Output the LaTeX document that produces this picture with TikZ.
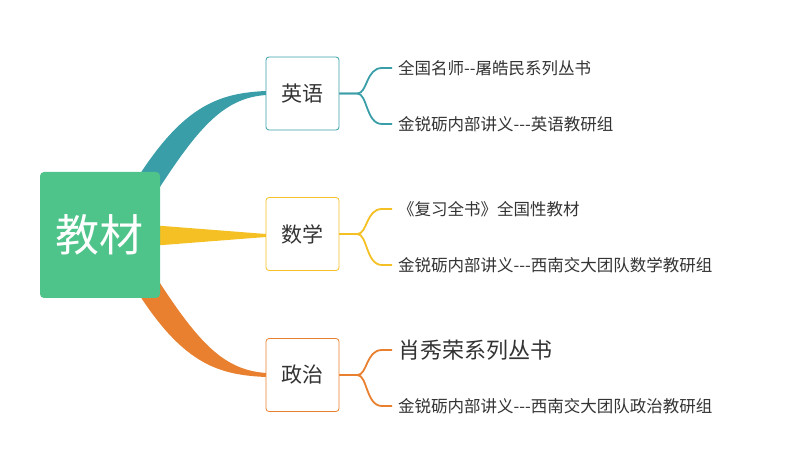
\documentclass[tikz,border=0pt]{standalone}
\usepackage{fontspec}
\setmainfont{Noto Sans CJK SC}
\definecolor{cg}{HTML}{4FC48A}
\definecolor{ct}{HTML}{3A9EA8}
\definecolor{cy}{HTML}{F5C024}
\definecolor{co}{HTML}{E98030}
\definecolor{tx}{HTML}{333333}
\begin{document}
\begin{tikzpicture}[x=1pt,y=-1pt,
  sub/.style={draw=#1,line width=0.8pt,fill=white,rounded corners=3pt,minimum width=73pt,minimum height=73pt,text=tx,font=\fontsize{21}{21}\selectfont,inner sep=0pt},
  leaf/.style={anchor=west,text=tx,font=\fontsize{16.5}{16.5}\selectfont,inner sep=0pt},
  br/.style={draw=#1,line width=1.8pt}]
\useasboundingbox (0,0) rectangle (796,473);
\fill[ct] (140,174) .. controls (185,105) and (220,93) .. (266,91) -- (266,95) .. controls (225,98) and (200,125) .. (158,190) -- cycle;
\fill[cy] (150,225) -- (266,234) -- (266,237) -- (150,246) -- cycle;
\fill[co] (140,296) .. controls (185,365) and (220,375) .. (266,377) -- (266,373) .. controls (225,370) and (200,345) .. (158,280) -- cycle;
\node[fill=cg,rounded corners=4pt,minimum width=120pt,minimum height=126pt,text=white,font=\fontsize{44}{44}\selectfont,inner sep=0pt] (root) at (100,235) {教材};
\node[sub=ct] (en) at (302.5,93.5) {英语};
\node[sub=cy] (ma) at (302.5,234) {数学};
\node[sub=co] (po) at (302.5,375) {政治};
\node[leaf] (e1) at (398,68) {全国名师{-}{-}屠皓民系列丛书};
\node[leaf] (e2) at (398,124) {金锐砺内部讲义{-}{-}{-}英语教研组};
\node[leaf] (m1) at (398,209) {《复习全书》全国性教材};
\node[leaf] (m2) at (398,265) {金锐砺内部讲义{-}{-}{-}西南交大团队数学教研组};
\node[leaf,font=\fontsize{22}{22}\selectfont] (p1) at (398,350) {肖秀荣系列丛书};
\node[leaf] (p2) at (398,406) {金锐砺内部讲义{-}{-}{-}西南交大团队政治教研组};
\foreach \b/\a/\c/\col in {en/e1/e2/ct,ma/m1/m2/cy,po/p1/p2/co}{
  \draw[br=\col] (\b.east) -- ++(18,0) .. controls +(10,0) and (\a.west -| 366,0) .. ([xshift=-16pt]\a.west) -- ([xshift=-6pt]\a.west);
  \draw[br=\col] (\b.east) -- ++(18,0) .. controls +(10,0) and (\c.west -| 366,0) .. ([xshift=-16pt]\c.west) -- ([xshift=-6pt]\c.west);
}
\end{tikzpicture}
\end{document}
